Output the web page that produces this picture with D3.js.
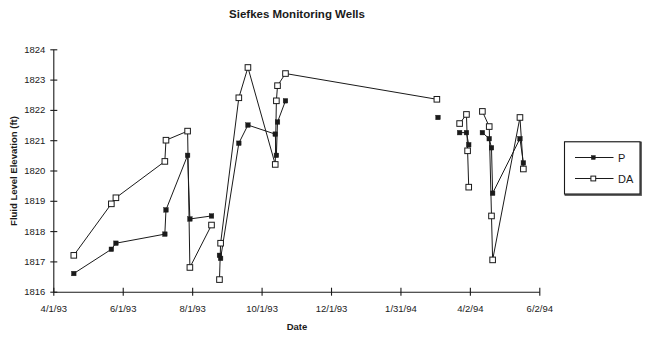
<!DOCTYPE html>
<html><head><meta charset="utf-8">
<script src="https://cdn.jsdelivr.net/npm/d3@7"></script>
<style>body{margin:0;background:#fff}svg{display:block}text{font-family:"Liberation Sans",Arial,sans-serif;fill:#1a1a1a}</style>
</head><body><svg id="c" width="650" height="338"></svg>
<script>
const title = "Siefkes Monitoring Wells";
const xTickLabels = ["4/1/93","6/1/93","8/1/93","10/1/93","12/1/93","1/31/94","4/2/94","6/2/94"];
const yTicks = [1816,1817,1818,1819,1820,1821,1822,1823,1824];
const seriesNames = ["P","DA"];
// null entries mark breaks in the line
const pDates = ["4/19/93","5/22/93","5/26/93","7/8/93","7/9/93","7/28/93","7/30/93","8/18/93",null,
  "8/25/93","8/26/93","9/11/93","9/19/93","10/13/93","10/14/93","10/15/93","10/22/93",null,
  "3/5/94",null,"3/24/94","3/30/94","4/1/94",null,
  "4/13/94","4/19/94","4/21/94","4/22/94","5/16/94","5/19/94"];
const pValues = [1816.6,1817.4,1817.6,1817.9,1818.7,1820.5,1818.4,1818.5,null,
  1817.2,1817.1,1820.9,1821.5,1821.2,1820.5,1821.6,1822.3,null,
  1821.75,null,1821.25,1821.25,1820.85,null,
  1821.25,1821.05,1820.75,1819.25,1821.05,1820.25];
const daDates = ["4/19/93","5/22/93","5/26/93","7/8/93","7/9/93","7/28/93","7/30/93","8/18/93",null,
  "8/25/93","8/26/93","9/11/93","9/19/93","10/13/93","10/14/93","10/15/93","10/22/93","3/4/94",null,
  "3/24/94","3/30/94","3/31/94","4/1/94",null,
  "4/13/94","4/19/94","4/21/94","4/22/94","5/16/94","5/19/94"];
const daValues = [1817.2,1818.9,1819.1,1820.3,1821.0,1821.3,1816.8,1818.2,null,
  1816.4,1817.6,1822.4,1823.4,1820.2,1822.3,1822.8,1823.2,1822.35,null,
  1821.55,1821.85,1820.65,1819.45,null,
  1821.95,1821.45,1818.5,1817.05,1821.75,1820.05];

const parse = d3.utcParse("%m/%d/%y");
const svg = d3.select("#c");
const x = d3.scaleUtc().domain([parse(xTickLabels[0]), parse(xTickLabels[xTickLabels.length-1])]).range([53.3, 539.3]);
const y = d3.scaleLinear().domain([1816,1824]).range([291.7, 49.3]);
const ink = "#1a1a1a";

svg.append("text").attr("x",297).attr("y",18).attr("text-anchor","middle")
  .style("font-size","11.5px").style("font-weight","bold").text(title);

// axes
const yAx = svg.append("g").attr("transform","translate(53.3,0)")
  .call(d3.axisLeft(y).tickValues(yTicks).tickFormat(d3.format("d")).tickSize(0).tickPadding(8));
yAx.select(".domain").attr("stroke",ink).attr("stroke-width",1.1);
yAx.selectAll("text").style("font-size","9.5px").attr("fill",ink).attr("font-family","Liberation Sans, Arial, sans-serif");
yAx.selectAll(".tick").append("line").attr("x1",-3).attr("x2",4).attr("stroke",ink).attr("stroke-width",1.1);

const xAx = svg.append("g").attr("transform","translate(0,291.7)")
  .call(d3.axisBottom(x).tickValues(xTickLabels.map(parse)).tickFormat((d,i)=>xTickLabels[i]).tickSize(0).tickPadding(14));
xAx.select(".domain").attr("stroke",ink).attr("stroke-width",1.1);
xAx.selectAll("text").style("font-size","9.5px").attr("fill",ink).attr("font-family","Liberation Sans, Arial, sans-serif");
xAx.selectAll(".tick").append("line").attr("y1",-4).attr("y2",4).attr("stroke",ink).attr("stroke-width",1.1);

svg.append("text").attr("x",297).attr("y",330).attr("text-anchor","middle")
  .style("font-size","9.5px").style("font-weight","bold").text("Date");
svg.append("text").attr("transform","translate(17,171) rotate(-90)").attr("text-anchor","middle")
  .style("font-size","9.5px").style("font-weight","bold").text("Fluid Level Elevation (ft)");

function build(dates, vals){ return dates.map((d,i)=>({d: d?parse(d):null, v: vals[i]})); }
const line = d3.line().defined(p=>p.d!==null && p.v!==null).x(p=>x(p.d)).y(p=>y(p.v));

function drawSeries(data, filled){
  svg.append("path").datum(data).attr("d",line).attr("fill","none").attr("stroke",ink).attr("stroke-width",1);
  const pts = data.filter(p=>p.d!==null && p.v!==null);
  const s = filled ? 4.6 : 5.6;
  svg.append("g").selectAll("rect").data(pts).join("rect")
    .attr("x",p=>x(p.d)-s/2).attr("y",p=>y(p.v)-s/2).attr("width",s).attr("height",s)
    .attr("fill",filled?ink:"#fff").attr("stroke",ink).attr("stroke-width",filled?0.4:1);
}
drawSeries(build(pDates,pValues), true);
drawSeries(build(daDates,daValues), false);

// legend
const lg = svg.append("g");
lg.append("rect").attr("x",565.5).attr("y",142.5).attr("width",75.5).attr("height",52.5)
  .attr("fill","none").attr("stroke","#555").attr("stroke-width",1.8);
lg.append("rect").attr("x",564.5).attr("y",141.8).attr("width",75.5).attr("height",52.2)
  .attr("fill","#fff").attr("stroke",ink).attr("stroke-width",1.1);
const ly = [157.5, 178.5];
seriesNames.forEach((n,i)=>{
  lg.append("line").attr("x1",575).attr("x2",613.5).attr("y1",ly[i]).attr("y2",ly[i]).attr("stroke",ink).attr("stroke-width",1);
  const s = i===0?4:4.8;
  lg.append("rect").attr("x",593.3-s/2).attr("y",ly[i]-s/2).attr("width",s).attr("height",s)
    .attr("fill",i===0?ink:"#fff").attr("stroke",ink).attr("stroke-width",i===0?0.4:1);
  lg.append("text").attr("x",618).attr("y",ly[i]+4).style("font-size","11px").text(n);
});
</script></body></html>
